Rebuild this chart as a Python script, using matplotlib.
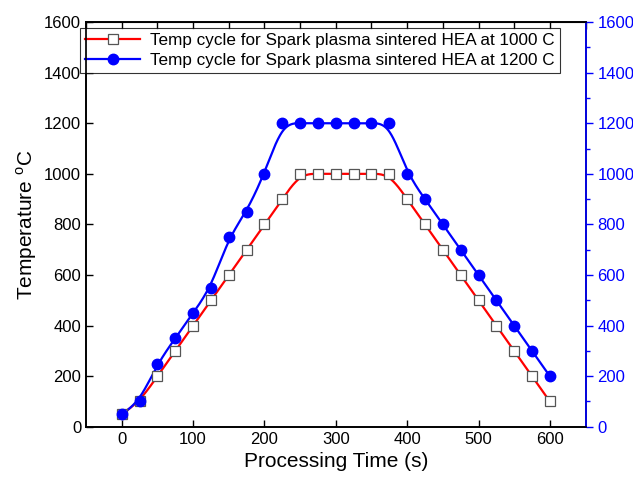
import numpy as np
import matplotlib
matplotlib.use("Agg")
import matplotlib.pyplot as plt
from matplotlib.ticker import MultipleLocator

plt.rcParams['font.family'] = ['Liberation Sans', 'DejaVu Sans']
plt.rcParams['mathtext.fontset'] = 'custom'
plt.rcParams['mathtext.rm'] = 'Liberation Sans'

# time points (s)
time_s = [0, 25, 50, 75, 100, 125, 150, 175, 200, 225, 250, 275, 300,
          325, 350, 375, 400, 425, 450, 475, 500, 525, 550, 575, 600]
# temperatures (C)
temp_1000 = [50, 100, 200, 300, 400, 500, 600, 700, 800, 900, 1000, 1000, 1000,
             1000, 1000, 1000, 900, 800, 700, 600, 500, 400, 300, 200, 100]
temp_1200 = [50, 100, 250, 350, 450, 550, 750, 850, 1000, 1200, 1200, 1200, 1200,
             1200, 1200, 1200, 1000, 900, 800, 700, 600, 500, 400, 300, 200]


def bspline(x, y, n=40):
    # uniform cubic B-spline using the data points as control points
    # (end points repeated so the curve starts/ends on them), like Origin's B-spline line
    px = np.concatenate([[x[0]] * 2, x, [x[-1]] * 2]).astype(float)
    py = np.concatenate([[y[0]] * 2, y, [y[-1]] * 2]).astype(float)
    t = np.linspace(0, 1, n, endpoint=False)
    b0 = (1 - t) ** 3 / 6
    b1 = (3 * t**3 - 6 * t**2 + 4) / 6
    b2 = (-3 * t**3 + 3 * t**2 + 3 * t + 1) / 6
    b3 = t**3 / 6
    outx, outy = [], []
    for i in range(len(px) - 3):
        outx.append(b0 * px[i] + b1 * px[i + 1] + b2 * px[i + 2] + b3 * px[i + 3])
        outy.append(b0 * py[i] + b1 * py[i + 1] + b2 * py[i + 2] + b3 * py[i + 3])
    outx.append([px[-1]])
    outy.append([py[-1]])
    return np.concatenate(outx), np.concatenate(outy)


fig = plt.figure(figsize=(6.33, 4.79), dpi=100)
ax = fig.add_axes([0.136, 0.109, 0.789, 0.845])
ax2 = ax.twinx()

cx, cy = bspline(time_s, temp_1000)
ax.plot(cx, cy, color='red', lw=1.6, zorder=2)
ax.plot(time_s, temp_1000, ls='none', marker='s', ms=6.5, mfc='white',
        mec='#555555', mew=0.9, zorder=3)
cx, cy = bspline(time_s, temp_1200)
ax.plot(cx, cy, color='blue', lw=1.6, zorder=2)
ax.plot(time_s, temp_1200, ls='none', marker='o', ms=7.5, mfc='blue',
        mec='blue', zorder=3)

# legend proxies
h1, = ax.plot([], [], color='red', lw=1.6, marker='s', ms=6.5, mfc='white',
              mec='#555555', mew=0.9)
h2, = ax.plot([], [], color='blue', lw=1.6, marker='o', ms=7.5, mfc='blue', mec='blue')
leg = ax.legend([h1, h2], ['Temp cycle for Spark plasma sintered HEA at 1000 C',
                           'Temp cycle for Spark plasma sintered HEA at 1200 C'],
                loc='upper left', bbox_to_anchor=(-0.022, 0.999), fontsize=12.3,
                frameon=True, fancybox=False, edgecolor='black', handlelength=3.2,
                borderpad=0.3, labelspacing=0.3, handletextpad=0.6, borderaxespad=0.3)
leg.get_frame().set_linewidth(0.8)

ax.set_xlim(-50, 650)
ax.set_ylim(0, 1600)
ax2.set_ylim(0, 1600)

ax.xaxis.set_major_locator(MultipleLocator(100))
ax.yaxis.set_major_locator(MultipleLocator(200))
ax.tick_params(axis='x', direction='in', length=5, width=1, labelsize=12, bottom=True, top=False)
ax.tick_params(axis='y', direction='in', length=5, width=1, labelsize=12)

# top ticks every 50
sec = ax.secondary_xaxis('top')
sec.set_xticks(np.arange(-50, 651, 50))
sec.tick_params(direction='in', length=5, width=1, labeltop=False)

ax2.yaxis.set_major_locator(MultipleLocator(200))
ax2.yaxis.set_minor_locator(MultipleLocator(100))
ax2.tick_params(axis='y', which='major', direction='out', length=5, width=1,
                colors='blue', labelsize=12)
ax2.tick_params(axis='y', which='minor', direction='out', length=3, width=1, colors='blue')

for a in (ax, ax2):
    for s in a.spines.values():
        s.set_linewidth(1.2)
ax2.spines['right'].set_color('blue')

ax.set_xlabel('Processing Time (s)', fontsize=15)
ax.set_ylabel(r'Temperature $^\mathrm{o}$C', fontsize=15)

fig.savefig('out.png', dpi=100)
